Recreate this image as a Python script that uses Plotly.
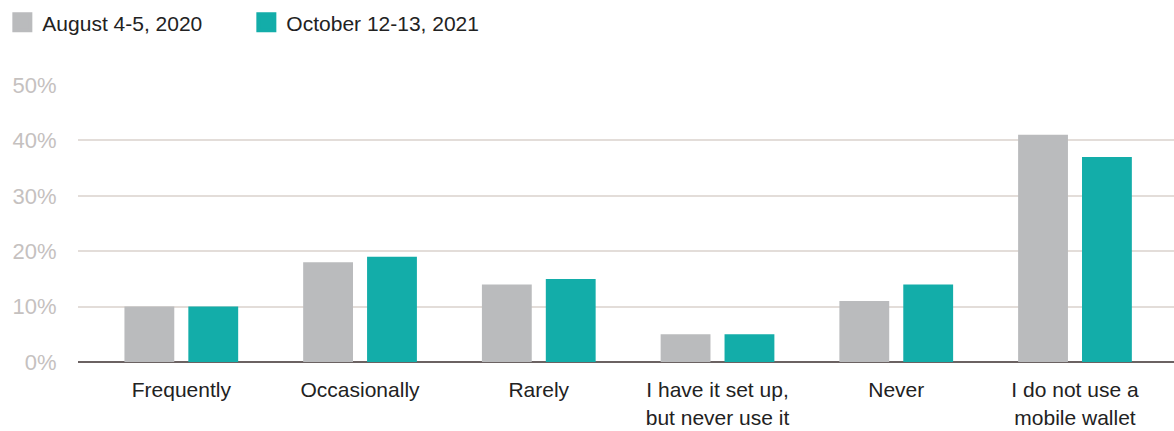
import plotly.graph_objects as go

categories = ["Frequently", "Occasionally", "Rarely",
              "I have it set up,<br>but never use it", "Never",
              "I do not use a<br>mobile wallet"]
series_names = ["August 4-5, 2020", "October 12-13, 2021"]
aug_2020 = [10, 18, 14, 5, 11, 41]
oct_2021 = [10, 19, 15, 5, 14, 37]
y_ticks = [0, 10, 20, 30, 40, 50]
y_tick_labels = ["0%", "10%", "20%", "30%", "40%", "50%"]

colors = ["#BABBBD", "#13ADA9"]
font_family = "Liberation Sans, Arial, Helvetica, sans-serif"

fig = go.Figure()
for name, vals, col in zip(series_names, [aug_2020, oct_2021], colors):
    fig.add_trace(go.Bar(x=list(range(len(categories))), y=vals, name=name,
                         marker=dict(color=col, line=dict(width=0)),
                         showlegend=False))
    # legend proxy with a larger square symbol
    fig.add_trace(go.Scatter(x=[None], y=[None], mode="markers", name=name,
                             marker=dict(symbol="square", size=16, color=col,
                                         line=dict(color=col, width=4)),
                             showlegend=True))

fig.update_layout(
    width=1174, height=431,
    margin=dict(l=78, r=0, t=85, b=69),
    paper_bgcolor="white", plot_bgcolor="white",
    barmode="group", bargap=0.285, bargroupgap=0.22,
    font=dict(family=font_family, size=21, color="#222222"),
    legend=dict(orientation="h", xref="container", yref="container",
                x=0.002, y=0.995, xanchor="left", yanchor="top",
                entrywidth=199, entrywidthmode="pixels",
                font=dict(size=21, color="#222222"),
                bgcolor="rgba(0,0,0,0)", borderwidth=0,
                itemsizing="trace"),
    xaxis=dict(tickmode="array", tickvals=list(range(len(categories))),
               ticktext=categories, range=[-0.578, 5.554],
               showgrid=False, zeroline=False, showline=False,
               ticks="outside", ticklen=9, tickcolor="rgba(0,0,0,0)",
               tickfont=dict(size=21, color="#222222"), fixedrange=True,
               automargin=False),
    yaxis=dict(range=[0, 50], tickmode="array", tickvals=y_ticks,
               ticktext=y_tick_labels, showgrid=True, gridcolor="#E3DDD9",
               gridwidth=1.5, zeroline=True, zerolinecolor="#6B6262",
               zerolinewidth=2, showline=False,
               ticks="outside", ticklen=16, tickcolor="rgba(0,0,0,0)",
               tickfont=dict(size=22, color="#C5C1BF"), fixedrange=True,
               automargin=False),
)

fig.write_html("out.html")
